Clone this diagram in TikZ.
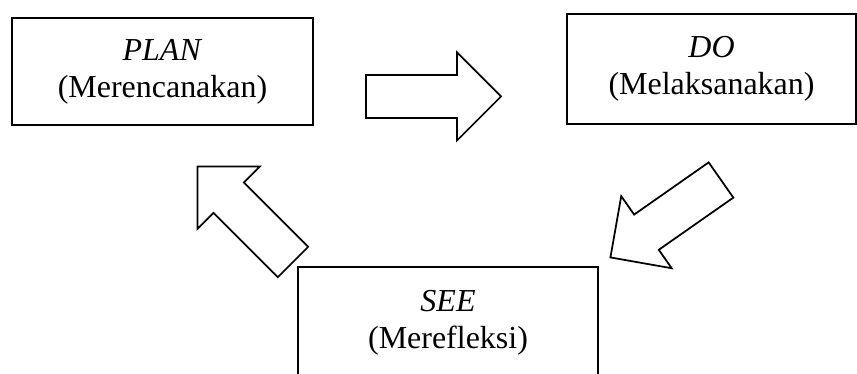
\documentclass[tikz,border=0pt]{standalone}
\usepackage{fontspec}
\setmainfont{Liberation Serif}
\newcommand{\blockarrow}[3]{%
	\draw[blockarr, shift={#1}, rotate=#2]
	(0,-21.5) -- (#3-44,-21.5) -- (#3-44,-44) -- (#3,0)
	-- (#3-44,44) -- (#3-44,21.5) -- (0,21.5) -- cycle;}

\begin{document}
\begin{tikzpicture}[
	x=0.02cm, y=-0.02cm,
	stagebox/.style={draw, line width=1pt, inner sep=0pt, align=center,
		font=\fontsize{18.2}{21}\selectfont},
	blockarr/.style={draw, line width=1pt, fill=white, line join=miter}
	]
	\useasboundingbox (0,0) rectangle (857,374);
	\clip (0,0) rectangle (857,374);
	\node[stagebox, minimum width=6.02cm, minimum height=2.14cm] (plan) at (162.5,71.5)
	{\textit{PLAN}\\(Merencanakan)};
	\node[stagebox, minimum width=5.78cm, minimum height=2.2cm] (do) at (711.5,69)
	{\textit{DO}\\(Melaksanakan)};
	\node[stagebox, minimum width=6cm, minimum height=2.24cm] (see) at (448,323)
	{\textit{SEE}\\(Merefleksi)};
	% plan -> do -> see -> plan
	\blockarrow{(366,96.5)}{0}{135}
	\blockarrow{(721,180)}{215}{135}
	\blockarrow{(293,262)}{135}{135}
\end{tikzpicture}
\end{document}
